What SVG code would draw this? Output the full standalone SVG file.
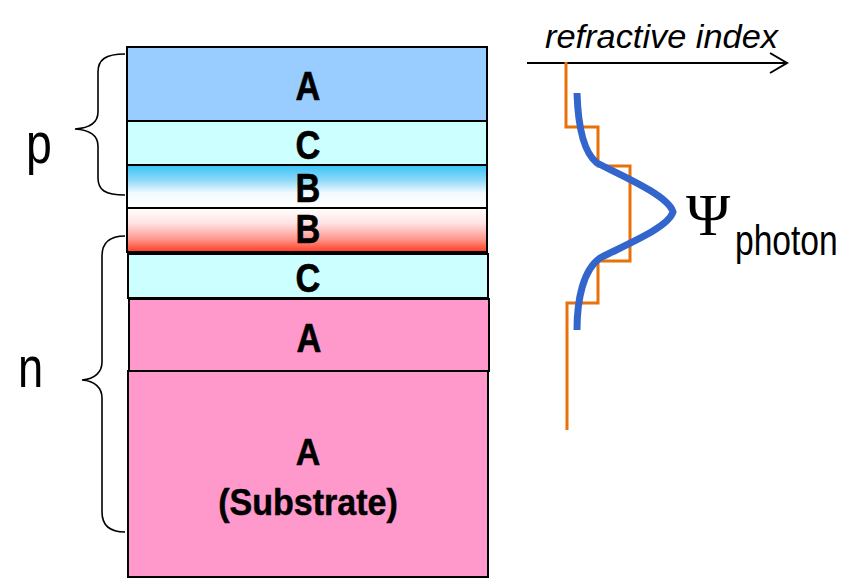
<svg xmlns="http://www.w3.org/2000/svg" width="846" height="578" viewBox="0 0 846 578">
<defs>
<linearGradient id="gBlue" x1="0" y1="0" x2="0" y2="1">
<stop offset="0" stop-color="#35C2F7"/>
<stop offset="0.35" stop-color="#8ED9FA"/>
<stop offset="0.65" stop-color="#F2FAFF"/>
<stop offset="1" stop-color="#FFFFFF"/>
</linearGradient>
<linearGradient id="gRed" x1="0" y1="0" x2="0" y2="1">
<stop offset="0" stop-color="#FFFFFF"/>
<stop offset="0.35" stop-color="#FFE2E2"/>
<stop offset="0.7" stop-color="#FF9A90"/>
<stop offset="1" stop-color="#FF3A1E"/>
</linearGradient>
<style>
.layer{stroke:#000;stroke-width:2}
.lbl{font-family:"Liberation Sans",Arial,sans-serif;font-weight:bold;font-size:40px;fill:#000;text-anchor:middle;stroke:#000;stroke-width:0.6}
.sub{font-family:"Liberation Sans",Arial,sans-serif;font-weight:bold;font-size:37px;fill:#000;text-anchor:middle;stroke:#000;stroke-width:0.5}
.brace{fill:none;stroke:#000;stroke-width:1.6}
.big{font-family:"Liberation Sans",Arial,sans-serif;font-size:58px;fill:#000}
</style>
</defs>
<rect width="846" height="578" fill="#FFFFFF"/>

<g id="layer-A-top">
<rect class="layer" x="127" y="47" width="360" height="74" fill="#99CCFF"/>
<text class="lbl" transform="translate(308,100) scale(0.86,1)">A</text>
</g>
<g id="layer-C-top">
<rect class="layer" x="127" y="121" width="360" height="44" fill="#CCFFFF"/>
<text class="lbl" transform="translate(308,159) scale(0.86,1)">C</text>
</g>
<g id="layer-B-p">
<rect class="layer" x="127" y="165" width="360" height="43" fill="url(#gBlue)"/>
<text class="lbl" transform="translate(308,202) scale(0.86,1)">B</text>
</g>
<g id="layer-B-n">
<rect class="layer" x="127" y="208" width="360" height="44" fill="url(#gRed)"/>
<text class="lbl" transform="translate(308,243) scale(0.86,1)">B</text>
</g>
<g id="layer-C-bottom">
<rect class="layer" x="128" y="254" width="360" height="44" fill="#CCFFFF"/>
<text class="lbl" transform="translate(308,292) scale(0.86,1)">C</text>
</g>
<g id="layer-A-n">
<rect class="layer" x="129" y="299" width="360" height="72" fill="#FF99CC"/>
<text class="lbl" transform="translate(309,352) scale(0.86,1)">A</text>
</g>
<g id="layer-substrate">
<rect class="layer" x="128" y="371" width="360" height="206" fill="#FF99CC"/>
<text class="sub" transform="translate(308,465) scale(0.92,1)">A</text>
<text class="sub" transform="translate(308,515) scale(0.92,1)">(Substrate)</text>
</g>

<g id="connectors">
<path class="brace" d="M125,54 C105,54 98,60 98,72 L98,112 C98,122 90,128 75,129 C90,130 98,136 98,146 L98,178 C98,190 105,195 125,195"/>
<path class="brace" d="M125,236 C108,236 102,244 102,256 L102,362 C102,372 95,379 82,380 C95,381 102,388 102,398 L102,512 C102,524 108,532 125,532"/>
<path d="M527,63 L787,63 M770,53 L787,63 L770,73" fill="none" stroke="#000" stroke-width="2"/>
<path d="M566,62 L566,127 L598,127 L598,166 L630,166 L630,261 L598,261 L598,303 L567,303 L567,430" fill="none" stroke="#E8710A" stroke-width="3"/>
<path d="M577,93 C578,125 583,152 597,163 C620,175 668,195 673,212 C668,228 625,245 600,258 C583,270 577,300 577,330" fill="none" stroke="#3366CC" stroke-width="7"/>
</g>

<g id="label-p"><text class="big" transform="translate(26,163) scale(0.8,1)">p</text></g>
<g id="label-n"><text class="big" transform="translate(18,387) scale(0.78,1)">n</text></g>
<g id="label-axis"><text x="545" y="48" font-family="Liberation Sans, Arial, sans-serif" font-style="italic" font-size="33" textLength="233" lengthAdjust="spacingAndGlyphs">refractive index</text></g>
<g id="label-psi">
<text x="686" y="235" font-family="Liberation Serif, Times New Roman, serif" font-size="60">Ψ</text>
<text transform="translate(735,255) scale(0.8,1)" font-family="Liberation Sans, Arial, sans-serif" font-size="42">photon</text>
</g>
</svg>
